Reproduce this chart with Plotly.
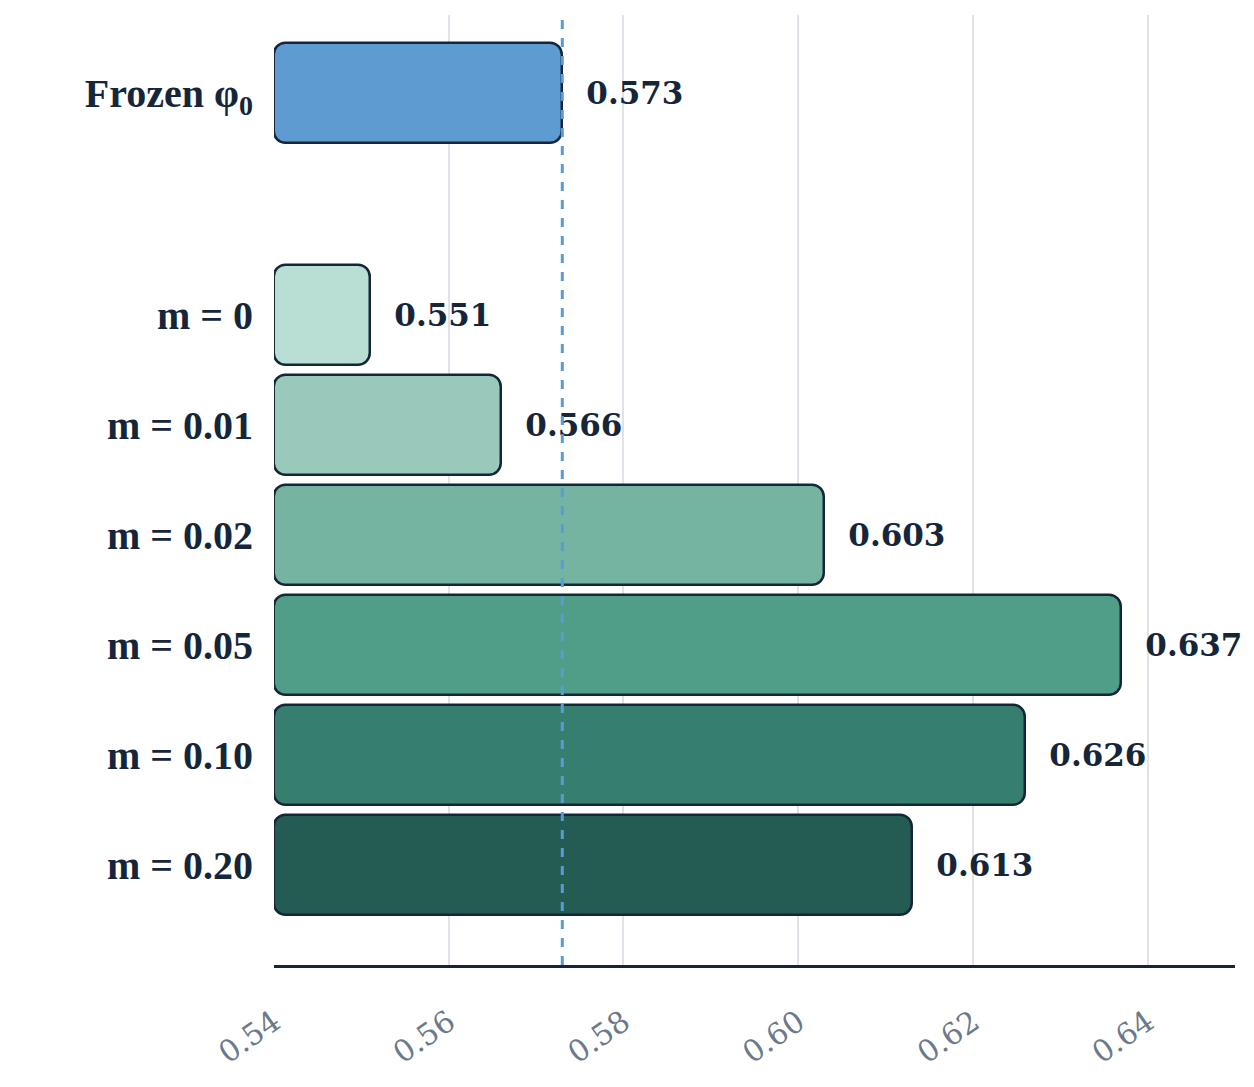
import plotly.graph_objects as go

labels = ["Frozen φ<sub>0</sub>", "m = 0", "m = 0.01", "m = 0.02", "m = 0.05", "m = 0.10", "m = 0.20"]
values = [0.573, 0.551, 0.566, 0.603, 0.637, 0.626, 0.613]
ypos = [7.02, 5, 4, 3, 2, 1, 0]
colors = ["#5e9bd1", "#b9dfd4", "#98c9bb", "#76b4a2", "#509e88", "#367f6f", "#245b53"]
baseline = 0.54
ref_line = 0.573
xticks = [0.54, 0.56, 0.58, 0.60, 0.62, 0.64]

fig = go.Figure()
fig.add_trace(go.Bar(
    y=ypos, x=[v - baseline for v in values], base=baseline, orientation="h",
    width=0.91, marker=dict(color=colors, line=dict(color="#16263a", width=2.5), cornerradius=12),
    text=[f"  {v:.3f}" for v in values], textposition="outside", cliponaxis=False,
    textfont=dict(family="DejaVu Serif", size=31, color="#16263a", weight="bold"),
    hoverinfo="skip"))
fig.add_vline(x=ref_line, line=dict(color="#5b9bd5", width=3, dash="dash"), layer="above")
fig.update_layout(
    width=1254, height=1087, plot_bgcolor="white", paper_bgcolor="white",
    margin=dict(l=266, r=27, t=7, b=130), showlegend=False, bargap=0,
    font=dict(family="DejaVu Serif"),
    xaxis=dict(range=[0.54, 0.65], tickvals=xticks, ticktext=[f"{t:.2f}" for t in xticks],
               tickangle=-35, tickfont=dict(size=30, color="#6b7a8a"),
               showgrid=True, gridcolor="#dde3e8", gridwidth=2, zeroline=False,
               showline=True, linecolor="#16263a", linewidth=2.5, ticks="", ticklabelstandoff=25),
    yaxis=dict(range=[-0.91, 7.73], tickvals=ypos, ticktext=labels,
               tickfont=dict(size=40, color="#16263a", weight="bold", family="Liberation Serif"),
               showgrid=False, zeroline=False, ticks="", ticklabelstandoff=20),
)
fig.write_html("out.html")
